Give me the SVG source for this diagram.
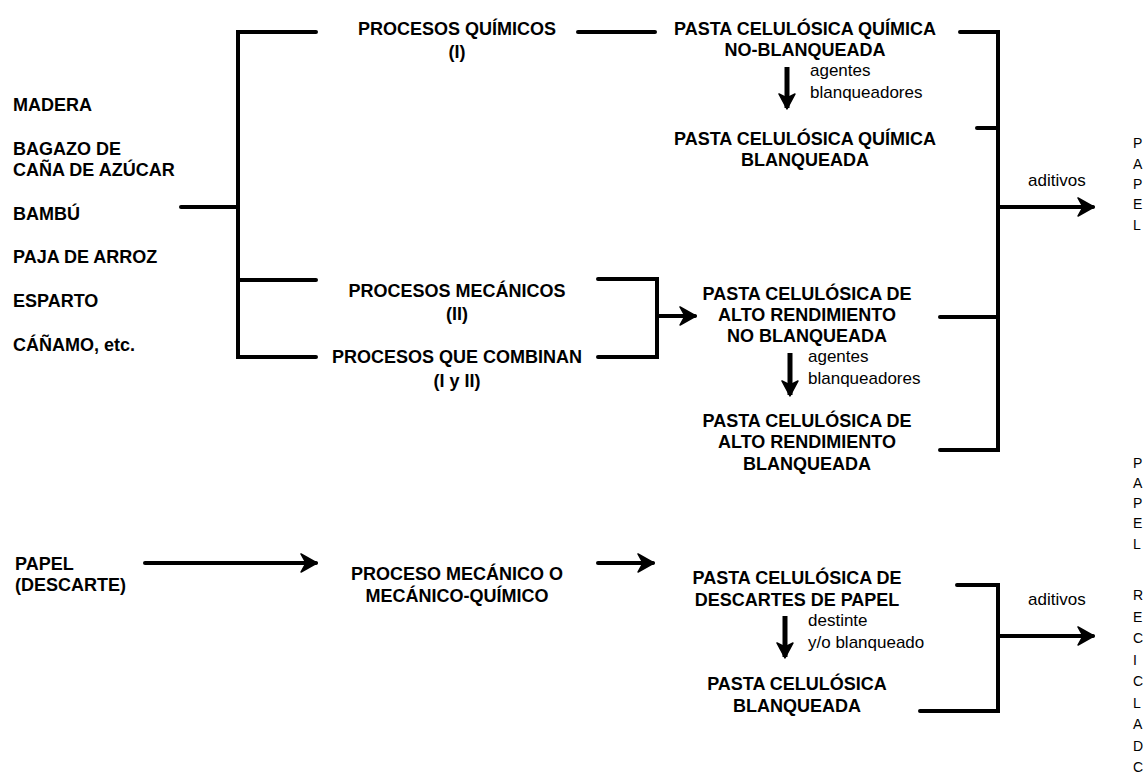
<svg xmlns="http://www.w3.org/2000/svg" width="1147" height="774" viewBox="0 0 1147 774">
<style>
.t{font-family:"Liberation Sans",Arial,sans-serif;font-size:18px;font-weight:bold;fill:#000}
.c{text-anchor:middle}
.s{font-family:"Liberation Sans",Arial,sans-serif;font-size:17px;fill:#000}
.r{font-family:"Liberation Sans",Arial,sans-serif;font-size:14px;fill:#000}
.ln{fill:none;stroke:#000;stroke-width:4;stroke-linecap:round;stroke-linejoin:miter}
.ar{fill:none;stroke:#000;stroke-width:4;stroke-linecap:round;marker-end:url(#ah)}
.dn{fill:none;stroke:#000;stroke-width:5;marker-end:url(#dh)}
</style>
<defs>
<marker id="ah" markerUnits="userSpaceOnUse" viewBox="-16 -10 18 20" refX="0" refY="0" markerWidth="18" markerHeight="20" orient="auto">
<path d="M-15,-9 L1,0 L-15,9 L-10,0 Z" fill="#000" stroke="#000" stroke-width="1.5" stroke-linejoin="round"/>
</marker>
<marker id="dh" markerUnits="userSpaceOnUse" viewBox="-16 -10 18 20" refX="0" refY="0" markerWidth="18" markerHeight="20" orient="auto">
<path d="M-14,-8 L1,0 L-14,8 L-10,0 Z" fill="#000" stroke="#000" stroke-width="1.5" stroke-linejoin="round"/>
</marker>
</defs>
<rect width="1147" height="774" fill="#fff"/>

<g id="materias">
<text class="t" x="13" y="111">MADERA</text>
<text class="t" x="13" y="155">BAGAZO DE</text>
<text class="t" x="13" y="176">CAÑA DE AZÚCAR</text>
<text class="t" x="13" y="220">BAMBÚ</text>
<text class="t" x="13" y="263">PAJA DE ARROZ</text>
<text class="t" x="13" y="307">ESPARTO</text>
<text class="t" x="13" y="351">CÁÑAMO, etc.</text>
</g>

<g id="proc-quimicos">
<text class="t c" x="457" y="35">PROCESOS QUÍMICOS</text>
<text class="t c" x="457" y="58">(I)</text>
</g>
<g id="proc-mecanicos">
<text class="t c" x="457" y="297">PROCESOS MECÁNICOS</text>
<text class="t c" x="457" y="320">(II)</text>
</g>
<g id="proc-combinan">
<text class="t c" x="457" y="363">PROCESOS QUE COMBINAN</text>
<text class="t c" x="457" y="387">(I y II)</text>
</g>

<g id="pasta-quim-nb">
<text class="t c" x="805" y="35">PASTA CELULÓSICA QUÍMICA</text>
<text class="t c" x="805" y="56">NO-BLANQUEADA</text>
</g>
<g id="blanq1">
<text class="s" x="810" y="76">agentes</text>
<text class="s" x="810" y="98">blanqueadores</text>
</g>
<g id="pasta-quim-b">
<text class="t c" x="805" y="145">PASTA CELULÓSICA QUÍMICA</text>
<text class="t c" x="805" y="166">BLANQUEADA</text>
</g>

<g id="pasta-ar-nb">
<text class="t c" x="807" y="300">PASTA CELULÓSICA DE</text>
<text class="t c" x="807" y="321">ALTO RENDIMIENTO</text>
<text class="t c" x="807" y="342">NO BLANQUEADA</text>
</g>
<g id="blanq2">
<text class="s" x="808" y="362">agentes</text>
<text class="s" x="808" y="384">blanqueadores</text>
</g>
<g id="pasta-ar-b">
<text class="t c" x="807" y="427">PASTA CELULÓSICA DE</text>
<text class="t c" x="807" y="448">ALTO RENDIMIENTO</text>
<text class="t c" x="807" y="470">BLANQUEADA</text>
</g>

<g id="aditivos1"><text class="s" x="1028" y="186">aditivos</text></g>
<g id="producto1">
<text class="r" x="1133" y="148">P</text>
<text class="r" x="1133" y="169">A</text>
<text class="r" x="1133" y="189">P</text>
<text class="r" x="1133" y="209">E</text>
<text class="r" x="1133" y="230">L</text>
</g>
<g id="producto2">
<text class="r" x="1133" y="468">P</text>
<text class="r" x="1133" y="488">A</text>
<text class="r" x="1133" y="508">P</text>
<text class="r" x="1133" y="528">E</text>
<text class="r" x="1133" y="549">L</text>
</g>

<g id="papel">
<text class="t" x="15" y="570">PAPEL</text>
<text class="t" x="15" y="591">(DESCARTE)</text>
</g>
<g id="proc-mec-quim">
<text class="t c" x="457" y="580">PROCESO MECÁNICO O</text>
<text class="t c" x="457" y="602">MECÁNICO-QUÍMICO</text>
</g>
<g id="pasta-desc">
<text class="t c" x="797" y="584">PASTA CELULÓSICA DE</text>
<text class="t c" x="797" y="606">DESCARTES DE PAPEL</text>
</g>
<g id="destinte">
<text class="s" x="808" y="626">destinte</text>
<text class="s" x="808" y="648">y/o blanqueado</text>
</g>
<g id="pasta-desc-b">
<text class="t c" x="797" y="690">PASTA CELULÓSICA</text>
<text class="t c" x="797" y="712">BLANQUEADA</text>
</g>
<g id="aditivos2"><text class="s" x="1028" y="605">aditivos</text></g>
<g id="producto3">
<text class="r" x="1133" y="600">R</text>
<text class="r" x="1133" y="621.5">E</text>
<text class="r" x="1133" y="643">C</text>
<text class="r" x="1133" y="664.5">I</text>
<text class="r" x="1133" y="686">C</text>
<text class="r" x="1133" y="707.5">L</text>
<text class="r" x="1133" y="729">A</text>
<text class="r" x="1133" y="750.5">D</text>
<text class="r" x="1133" y="772">C</text>
</g>

<g id="connectors">
<path class="ln" d="M181,207 H238"/>
<path class="ln" d="M316,32 H238 V357 H316"/>
<path class="ln" d="M238,280 H316"/>
<path class="ln" d="M578,32 H655"/>
<path class="ln" d="M960,32 H998 V450 H940"/>
<path class="ln" d="M977,128 H998"/>
<path class="ln" d="M940,317 H998"/>
<path class="ar" d="M998,207 H1093"/>
<path class="dn" d="M787,67 V108"/>
<path class="ln" d="M598,279 H657 V357 H598"/>
<path class="ar" d="M657,316 H695"/>
<path class="dn" d="M790,353 V395"/>
<path class="ar" d="M145,563 H316"/>
<path class="ar" d="M598,563 H653"/>
<path class="dn" d="M785,616 V657"/>
<path class="ln" d="M957,585 H998 V711 H920"/>
<path class="ar" d="M998,636 H1093"/>
</g>
</svg>
